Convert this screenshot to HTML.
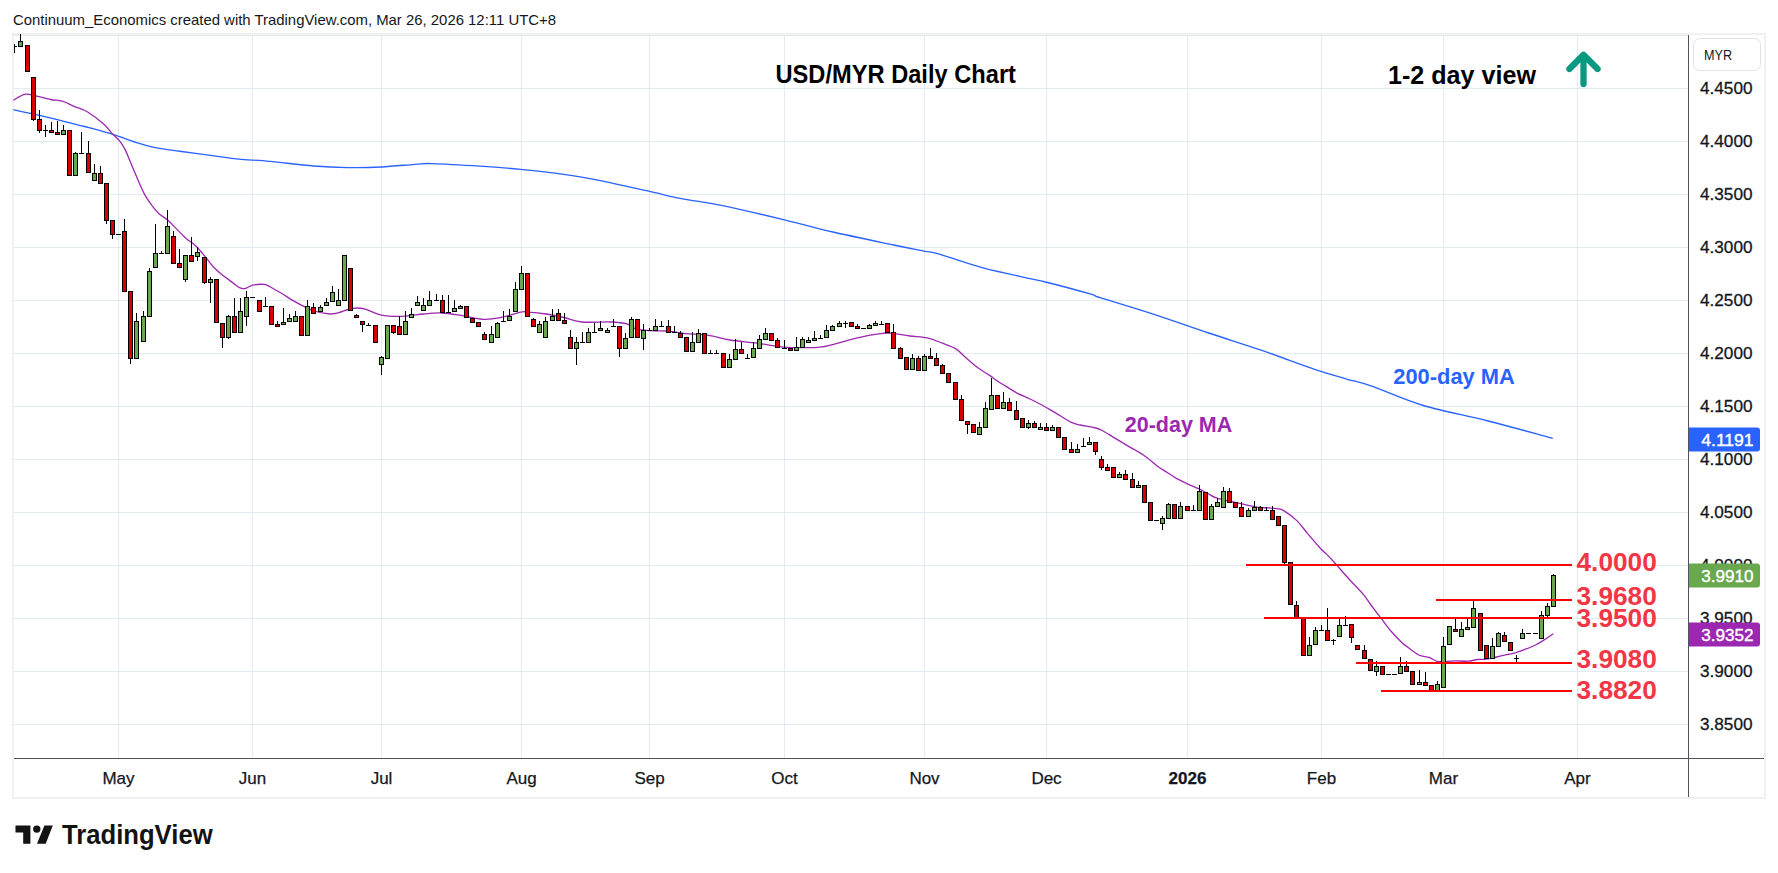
<!DOCTYPE html><html><head><meta charset="utf-8"><style>html,body{margin:0;padding:0;background:#fff;}svg{display:block;}text{font-family:"Liberation Sans",sans-serif;}</style></head><body>
<svg width="1778" height="873" viewBox="0 0 1778 873">
<rect x="0" y="0" width="1778" height="873" fill="#ffffff"/>
<rect x="12" y="33" width="1754" height="766" fill="#f1f1f1"/>
<rect x="14" y="35" width="1750" height="762" fill="#ffffff"/>
<text x="13" y="25" font-size="14.3" fill="#131722" textLength="543" lengthAdjust="spacingAndGlyphs">Continuum_Economics created with TradingView.com, Mar 26, 2026 12:11 UTC+8</text>
<g shape-rendering="crispEdges"><rect x="14" y="35" width="1674" height="1" fill="#e0ebf2"/><rect x="14" y="88" width="1674" height="1" fill="#e0ebf2"/><rect x="14" y="141" width="1674" height="1" fill="#e0ebf2"/><rect x="14" y="194" width="1674" height="1" fill="#e0ebf2"/><rect x="14" y="247" width="1674" height="1" fill="#e0ebf2"/><rect x="14" y="300" width="1674" height="1" fill="#e0ebf2"/><rect x="14" y="353" width="1674" height="1" fill="#e0ebf2"/><rect x="14" y="406" width="1674" height="1" fill="#e0ebf2"/><rect x="14" y="459" width="1674" height="1" fill="#e0ebf2"/><rect x="14" y="512" width="1674" height="1" fill="#e0ebf2"/><rect x="14" y="565" width="1674" height="1" fill="#e0ebf2"/><rect x="14" y="618" width="1674" height="1" fill="#e0ebf2"/><rect x="14" y="671" width="1674" height="1" fill="#e0ebf2"/><rect x="14" y="724" width="1674" height="1" fill="#e0ebf2"/><rect x="118" y="35" width="1" height="723" fill="#e0ebf2"/><rect x="252" y="35" width="1" height="723" fill="#e0ebf2"/><rect x="381" y="35" width="1" height="723" fill="#e0ebf2"/><rect x="521" y="35" width="1" height="723" fill="#e0ebf2"/><rect x="649" y="35" width="1" height="723" fill="#e0ebf2"/><rect x="784" y="35" width="1" height="723" fill="#e0ebf2"/><rect x="924" y="35" width="1" height="723" fill="#e0ebf2"/><rect x="1046" y="35" width="1" height="723" fill="#e0ebf2"/><rect x="1187" y="35" width="1" height="723" fill="#e0ebf2"/><rect x="1321" y="35" width="1" height="723" fill="#e0ebf2"/><rect x="1443" y="35" width="1" height="723" fill="#e0ebf2"/><rect x="1577" y="35" width="1" height="723" fill="#e0ebf2"/></g>
<g shape-rendering="crispEdges"><rect x="1688" y="35" width="1" height="762" fill="#50535e"/><rect x="14" y="758" width="1750" height="1" fill="#50535e"/></g>
<text x="775.5" y="83" font-size="26" font-weight="bold" fill="#000" textLength="240.5" lengthAdjust="spacingAndGlyphs">USD/MYR Daily Chart</text>
<text x="1388" y="84" font-size="26" font-weight="bold" fill="#000" textLength="148" lengthAdjust="spacingAndGlyphs">1-2 day view</text>
<g stroke="#089981" stroke-width="6.3" stroke-linecap="round" stroke-linejoin="round" fill="none"><path d="M1583.5 84 L1583.5 56"/><path d="M1569.4 69 L1583.5 54.8 L1597.6 69"/></g>
<path d="M13.4 109.7 C18.5 110.8 33.0 113.9 43.7 116.4 C54.4 118.9 69.8 122.9 77.5 124.8 C85.2 126.7 84.1 126.3 90.0 127.9 C95.9 129.5 105.3 132.0 112.9 134.4 C120.5 136.8 128.9 140.2 135.8 142.4 C142.7 144.6 146.5 145.9 154.1 147.4 C161.7 148.9 171.3 150.1 181.6 151.5 C191.9 152.9 206.4 154.8 215.9 156.1 C225.4 157.4 229.8 158.2 238.8 159.1 C247.8 160.0 257.5 160.2 270.0 161.4 C282.5 162.6 300.8 165.0 313.7 166.0 C326.6 167.0 336.2 167.4 347.5 167.6 C358.8 167.8 369.9 167.6 381.2 167.0 C392.4 166.4 406.6 164.9 415.0 164.3 C423.4 163.7 421.1 163.3 431.9 163.6 C442.7 163.9 465.2 165.2 480.0 166.2 C494.8 167.1 506.6 168.0 520.5 169.3 C534.5 170.7 550.2 172.4 563.7 174.3 C577.2 176.2 587.3 178.0 601.5 180.8 C615.7 183.6 635.2 188.2 648.7 191.2 C662.2 194.2 670.6 196.6 682.5 198.9 C694.4 201.2 703.0 201.6 720.0 205.1 C737.0 208.6 765.6 215.3 784.4 219.8 C803.2 224.3 814.8 227.8 833.0 232.0 C851.2 236.2 878.5 241.8 893.7 245.0 C908.9 248.2 916.4 249.6 924.0 251.1 C931.6 252.6 929.1 251.2 939.2 254.1 C949.3 257.0 967.1 263.8 984.8 268.4 C1002.5 273.0 1027.8 277.7 1045.5 282.0 C1063.2 286.3 1081.9 291.6 1091.0 294.2 C1100.1 296.8 1089.9 294.4 1100.0 297.6 C1110.1 300.8 1133.6 307.7 1151.7 313.6 C1169.8 319.5 1190.6 326.9 1208.7 333.0 C1226.8 339.1 1242.7 343.8 1260.4 349.9 C1278.1 355.9 1300.5 364.5 1314.7 369.3 C1328.9 374.1 1336.3 376.0 1345.8 378.8 C1355.3 381.6 1358.8 381.7 1371.7 386.1 C1384.6 390.6 1404.0 399.7 1423.4 405.5 C1442.8 411.3 1466.5 415.5 1488.1 421.0 C1509.7 426.5 1542.0 435.4 1552.8 438.3" fill="none" stroke="#2962ff" stroke-width="1.35"/>
<path d="M13.4 100.2 C15.4 99.2 21.6 94.9 25.2 94.2 C28.8 93.5 31.1 94.9 35.3 95.8 C39.5 96.7 46.0 98.6 50.5 99.5 C55.0 100.4 58.4 100.1 62.3 101.2 C66.2 102.3 69.9 104.5 74.1 106.3 C78.3 108.1 82.7 109.0 87.6 112.0 C92.5 115.0 99.5 120.4 103.7 124.1 C107.9 127.8 110.2 131.6 112.9 134.4 C115.6 137.2 117.7 138.5 119.8 141.2 C121.9 143.9 123.6 146.6 125.5 150.4 C127.4 154.2 129.1 159.1 131.2 164.1 C133.3 169.1 135.8 175.0 138.1 180.2 C140.4 185.4 142.7 190.9 145.0 195.1 C147.3 199.3 149.5 202.3 151.8 205.4 C154.1 208.5 156.0 210.9 158.7 213.4 C161.4 215.9 164.8 217.6 167.9 220.3 C171.0 223.0 173.9 226.4 177.0 229.4 C180.1 232.4 183.1 235.9 186.2 238.6 C189.2 241.3 192.2 242.6 195.3 245.5 C198.4 248.4 201.4 252.2 204.5 255.8 C207.6 259.4 210.6 263.9 213.7 267.2 C216.8 270.4 219.8 272.8 222.8 275.3 C225.9 277.8 229.1 280.0 232.0 282.1 C234.9 284.2 237.7 286.9 240.0 287.9 C242.3 288.9 243.6 288.8 245.7 288.3 C247.8 287.8 249.5 285.8 252.6 285.1 C255.7 284.5 261.1 284.1 264.0 284.4 C266.9 284.7 267.0 285.1 270.0 286.7 C273.0 288.3 278.1 291.4 282.2 293.8 C286.3 296.2 289.3 298.6 294.4 301.4 C299.5 304.2 306.7 308.4 312.6 310.5 C318.5 312.6 325.3 313.8 330.0 314.0 C334.7 314.2 337.8 312.8 340.8 312.0 C343.8 311.2 345.3 310.2 348.0 309.5 C350.7 308.8 354.0 308.0 357.0 308.0 C360.0 308.0 362.1 308.3 366.0 309.4 C369.9 310.5 374.4 313.6 380.4 314.8 C386.4 316.0 394.8 316.4 402.0 316.3 C409.2 316.2 417.0 314.6 423.6 314.0 C430.2 313.4 435.6 312.8 441.6 313.0 C447.6 313.2 452.7 314.1 459.6 315.2 C466.5 316.2 476.1 318.9 483.0 319.3 C489.9 319.7 494.7 318.7 501.0 317.5 C507.3 316.3 516.3 313.0 520.8 312.1 C525.3 311.2 523.8 311.8 528.0 312.1 C532.2 312.4 540.0 313.1 546.0 314.0 C552.0 314.9 558.0 316.2 564.0 317.5 C570.0 318.8 574.2 321.2 582.0 322.0 C589.8 322.8 603.3 321.7 610.8 322.0 C618.3 322.3 622.8 322.7 627.0 323.8 C631.2 324.9 632.2 327.8 636.0 328.9 C639.8 330.0 644.8 330.3 650.0 330.7 C655.2 331.1 661.2 330.5 667.0 331.0 C672.8 331.5 678.1 332.9 685.0 333.6 C691.9 334.3 700.9 334.2 708.4 335.3 C715.9 336.4 721.9 338.7 730.0 340.0 C738.1 341.3 748.0 342.0 757.0 343.2 C766.0 344.4 776.5 346.4 784.0 347.2 C791.5 347.9 796.0 347.7 802.0 347.7 C808.0 347.7 814.6 347.8 820.0 347.2 C825.4 346.6 829.0 345.4 834.4 344.1 C839.8 342.8 846.4 340.7 852.4 339.2 C858.4 337.7 865.3 336.1 870.4 335.1 C875.5 334.1 879.4 333.6 883.0 333.3 C886.6 333.0 887.5 332.9 892.0 333.3 C896.5 333.8 904.0 335.2 910.0 336.0 C916.0 336.8 922.6 337.0 928.0 338.2 C933.4 339.4 937.8 341.5 942.4 343.2 C947.0 344.9 951.9 346.4 955.6 348.6 C959.3 350.9 961.7 354.0 964.8 356.7 C967.9 359.4 971.3 362.5 974.0 364.7 C976.7 366.9 978.1 368.0 980.8 369.8 C983.5 371.6 987.3 373.8 990.0 375.6 C992.7 377.4 994.2 378.9 996.9 380.7 C999.6 382.5 1002.6 384.3 1006.0 386.4 C1009.4 388.5 1013.7 391.3 1017.5 393.3 C1021.3 395.3 1025.2 396.7 1029.0 398.5 C1032.8 400.3 1036.9 402.3 1040.4 404.2 C1043.9 406.1 1046.6 407.6 1050.0 409.6 C1053.4 411.6 1057.3 414.0 1061.0 416.2 C1064.7 418.4 1068.8 421.2 1072.0 422.7 C1075.2 424.2 1076.5 424.2 1080.2 425.0 C1083.9 425.8 1090.3 426.6 1094.0 427.5 C1097.7 428.4 1099.0 428.9 1102.2 430.5 C1105.4 432.1 1109.1 434.6 1113.2 437.1 C1117.3 439.6 1121.9 442.4 1126.9 445.4 C1131.9 448.4 1138.4 451.6 1143.4 455.0 C1148.5 458.4 1153.3 463.1 1157.2 466.0 C1161.1 468.9 1163.6 470.1 1166.8 472.2 C1170.0 474.3 1173.0 476.5 1176.4 478.4 C1179.8 480.3 1183.7 482.1 1187.4 483.8 C1191.1 485.5 1195.0 487.1 1198.4 488.7 C1201.8 490.3 1205.0 492.0 1208.0 493.5 C1211.0 495.0 1211.6 496.4 1216.3 497.9 C1221.0 499.4 1229.8 501.2 1236.3 502.7 C1242.8 504.2 1248.8 505.8 1255.5 506.8 C1262.2 507.8 1271.8 508.0 1276.5 508.6 C1281.2 509.2 1280.3 508.6 1283.7 510.6 C1287.1 512.6 1293.1 517.1 1297.1 520.9 C1301.0 524.7 1303.6 528.8 1307.4 533.3 C1311.2 537.8 1316.4 544.0 1319.8 547.7 C1323.2 551.4 1325.2 552.8 1328.0 555.6 C1330.8 558.4 1332.8 560.8 1336.3 564.6 C1339.8 568.5 1344.2 573.8 1348.7 578.7 C1353.2 583.6 1359.3 589.6 1363.1 594.1 C1366.9 598.6 1368.2 601.4 1371.3 605.5 C1374.4 609.6 1378.1 614.4 1381.6 618.9 C1385.0 623.4 1388.5 628.3 1392.0 632.3 C1395.5 636.3 1399.5 640.4 1402.3 643.0 C1405.0 645.6 1405.8 645.7 1408.5 647.7 C1411.2 649.7 1415.4 653.4 1418.8 655.0 C1422.2 656.6 1426.1 656.4 1429.1 657.4 C1432.1 658.4 1434.0 660.6 1437.0 661.3 C1440.0 662.0 1443.7 661.6 1446.8 661.5 C1449.9 661.4 1452.0 660.8 1455.6 660.8 C1459.2 660.8 1464.5 661.4 1468.2 661.2 C1471.9 661.0 1474.6 659.8 1477.6 659.5 C1480.6 659.2 1483.2 659.6 1486.4 659.2 C1489.6 658.8 1493.1 657.8 1496.5 657.0 C1499.9 656.2 1503.4 655.4 1506.6 654.7 C1509.8 654.0 1512.2 653.7 1515.4 652.8 C1518.6 651.9 1522.2 650.5 1525.5 649.2 C1528.8 647.9 1532.6 646.4 1535.5 645.0 C1538.4 643.6 1540.1 642.5 1543.1 640.6 C1546.0 638.7 1551.5 634.9 1553.2 633.7" fill="none" stroke="#9c27b0" stroke-width="1.3"/>
<defs><clipPath id="ca"><rect x="14" y="33" width="1674" height="725"/></clipPath></defs>
<g shape-rendering="crispEdges" clip-path="url(#ca)"><rect x="14" y="44" width="1" height="9" fill="#000"/><rect x="12" y="46" width="5" height="1" fill="#000"/><rect x="20" y="34" width="1" height="13" fill="#000"/><rect x="18" y="41" width="5" height="6" fill="#000"/><rect x="19" y="42" width="3" height="4" fill="#6aa84f"/><rect x="25" y="45" width="5" height="27" fill="#000"/><rect x="26" y="46" width="3" height="25" fill="#d80000"/><rect x="33" y="77" width="1" height="44" fill="#000"/><rect x="31" y="77" width="5" height="43" fill="#000"/><rect x="32" y="78" width="3" height="41" fill="#d80000"/><rect x="39" y="110" width="1" height="23" fill="#000"/><rect x="37" y="119" width="5" height="12" fill="#000"/><rect x="38" y="120" width="3" height="10" fill="#d80000"/><rect x="45" y="125" width="1" height="12" fill="#000"/><rect x="43" y="130" width="5" height="1" fill="#000"/><rect x="51" y="122" width="1" height="11" fill="#000"/><rect x="49" y="130" width="5" height="3" fill="#000"/><rect x="50" y="131" width="3" height="1" fill="#d80000"/><rect x="57" y="121" width="1" height="14" fill="#000"/><rect x="55" y="132" width="5" height="3" fill="#000"/><rect x="56" y="133" width="3" height="1" fill="#d80000"/><rect x="63" y="125" width="1" height="10" fill="#000"/><rect x="61" y="130" width="5" height="5" fill="#000"/><rect x="62" y="131" width="3" height="3" fill="#6aa84f"/><rect x="67" y="130" width="5" height="46" fill="#000"/><rect x="68" y="131" width="3" height="44" fill="#d80000"/><rect x="75" y="152" width="1" height="24" fill="#000"/><rect x="73" y="153" width="5" height="23" fill="#000"/><rect x="74" y="154" width="3" height="21" fill="#6aa84f"/><rect x="81" y="132" width="1" height="21" fill="#000"/><rect x="79" y="153" width="5" height="1" fill="#000"/><rect x="88" y="141" width="1" height="32" fill="#000"/><rect x="86" y="153" width="5" height="20" fill="#000"/><rect x="87" y="154" width="3" height="18" fill="#d80000"/><rect x="94" y="164" width="1" height="17" fill="#000"/><rect x="92" y="173" width="5" height="8" fill="#000"/><rect x="93" y="174" width="3" height="6" fill="#6aa84f"/><rect x="100" y="166" width="1" height="18" fill="#000"/><rect x="98" y="173" width="5" height="11" fill="#000"/><rect x="99" y="174" width="3" height="9" fill="#d80000"/><rect x="106" y="183" width="1" height="41" fill="#000"/><rect x="104" y="183" width="5" height="38" fill="#000"/><rect x="105" y="184" width="3" height="36" fill="#d80000"/><rect x="112" y="220" width="1" height="19" fill="#000"/><rect x="110" y="220" width="5" height="15" fill="#000"/><rect x="111" y="221" width="3" height="13" fill="#d80000"/><rect x="116" y="234" width="5" height="1" fill="#000"/><rect x="124" y="219" width="1" height="73" fill="#000"/><rect x="122" y="231" width="5" height="61" fill="#000"/><rect x="123" y="232" width="3" height="59" fill="#d80000"/><rect x="130" y="291" width="1" height="73" fill="#000"/><rect x="128" y="291" width="5" height="68" fill="#000"/><rect x="129" y="292" width="3" height="66" fill="#d80000"/><rect x="136" y="313" width="1" height="46" fill="#000"/><rect x="134" y="321" width="5" height="38" fill="#000"/><rect x="135" y="322" width="3" height="36" fill="#6aa84f"/><rect x="143" y="311" width="1" height="31" fill="#000"/><rect x="141" y="316" width="5" height="26" fill="#000"/><rect x="142" y="317" width="3" height="24" fill="#6aa84f"/><rect x="149" y="268" width="1" height="49" fill="#000"/><rect x="147" y="271" width="5" height="46" fill="#000"/><rect x="148" y="272" width="3" height="44" fill="#6aa84f"/><rect x="155" y="224" width="1" height="44" fill="#000"/><rect x="153" y="253" width="5" height="15" fill="#000"/><rect x="154" y="254" width="3" height="13" fill="#6aa84f"/><rect x="161" y="251" width="1" height="3" fill="#000"/><rect x="159" y="253" width="5" height="1" fill="#000"/><rect x="167" y="210" width="1" height="44" fill="#000"/><rect x="165" y="226" width="5" height="28" fill="#000"/><rect x="166" y="227" width="3" height="26" fill="#6aa84f"/><rect x="173" y="231" width="1" height="33" fill="#000"/><rect x="171" y="236" width="5" height="28" fill="#000"/><rect x="172" y="237" width="3" height="26" fill="#d80000"/><rect x="179" y="249" width="1" height="19" fill="#000"/><rect x="177" y="263" width="5" height="5" fill="#000"/><rect x="178" y="264" width="3" height="3" fill="#d80000"/><rect x="185" y="255" width="1" height="27" fill="#000"/><rect x="183" y="255" width="5" height="25" fill="#000"/><rect x="184" y="256" width="3" height="23" fill="#6aa84f"/><rect x="191" y="237" width="1" height="25" fill="#000"/><rect x="189" y="255" width="5" height="7" fill="#000"/><rect x="190" y="256" width="3" height="5" fill="#d80000"/><rect x="197" y="247" width="1" height="14" fill="#000"/><rect x="195" y="252" width="5" height="5" fill="#000"/><rect x="196" y="253" width="3" height="3" fill="#6aa84f"/><rect x="204" y="257" width="1" height="27" fill="#000"/><rect x="202" y="257" width="5" height="26" fill="#000"/><rect x="203" y="258" width="3" height="24" fill="#d80000"/><rect x="210" y="277" width="1" height="26" fill="#000"/><rect x="208" y="279" width="5" height="4" fill="#000"/><rect x="209" y="280" width="3" height="2" fill="#6aa84f"/><rect x="214" y="279" width="5" height="44" fill="#000"/><rect x="215" y="280" width="3" height="42" fill="#d80000"/><rect x="222" y="323" width="1" height="25" fill="#000"/><rect x="220" y="323" width="5" height="15" fill="#000"/><rect x="221" y="324" width="3" height="13" fill="#d80000"/><rect x="228" y="315" width="1" height="24" fill="#000"/><rect x="226" y="316" width="5" height="22" fill="#000"/><rect x="227" y="317" width="3" height="20" fill="#6aa84f"/><rect x="234" y="298" width="1" height="35" fill="#000"/><rect x="232" y="316" width="5" height="17" fill="#000"/><rect x="233" y="317" width="3" height="15" fill="#d80000"/><rect x="240" y="298" width="1" height="35" fill="#000"/><rect x="238" y="311" width="5" height="22" fill="#000"/><rect x="239" y="312" width="3" height="20" fill="#6aa84f"/><rect x="246" y="291" width="1" height="35" fill="#000"/><rect x="244" y="297" width="5" height="20" fill="#000"/><rect x="245" y="298" width="3" height="18" fill="#6aa84f"/><rect x="250" y="297" width="5" height="1" fill="#000"/><rect x="257" y="300" width="5" height="12" fill="#000"/><rect x="258" y="301" width="3" height="10" fill="#d80000"/><rect x="265" y="297" width="1" height="9" fill="#000"/><rect x="263" y="306" width="5" height="1" fill="#000"/><rect x="269" y="306" width="5" height="19" fill="#000"/><rect x="270" y="307" width="3" height="17" fill="#d80000"/><rect x="277" y="321" width="1" height="6" fill="#000"/><rect x="275" y="324" width="5" height="3" fill="#000"/><rect x="276" y="325" width="3" height="1" fill="#d80000"/><rect x="283" y="308" width="1" height="17" fill="#000"/><rect x="281" y="322" width="5" height="3" fill="#000"/><rect x="282" y="323" width="3" height="1" fill="#6aa84f"/><rect x="289" y="314" width="1" height="8" fill="#000"/><rect x="287" y="318" width="5" height="4" fill="#000"/><rect x="288" y="319" width="3" height="2" fill="#6aa84f"/><rect x="295" y="311" width="1" height="11" fill="#000"/><rect x="293" y="316" width="5" height="6" fill="#000"/><rect x="294" y="317" width="3" height="4" fill="#6aa84f"/><rect x="299" y="316" width="5" height="20" fill="#000"/><rect x="300" y="317" width="3" height="18" fill="#d80000"/><rect x="307" y="300" width="1" height="36" fill="#000"/><rect x="305" y="306" width="5" height="30" fill="#000"/><rect x="306" y="307" width="3" height="28" fill="#6aa84f"/><rect x="313" y="303" width="1" height="11" fill="#000"/><rect x="311" y="307" width="5" height="7" fill="#000"/><rect x="312" y="308" width="3" height="5" fill="#d80000"/><rect x="320" y="305" width="1" height="7" fill="#000"/><rect x="318" y="307" width="5" height="5" fill="#000"/><rect x="319" y="308" width="3" height="3" fill="#6aa84f"/><rect x="326" y="298" width="1" height="8" fill="#000"/><rect x="324" y="302" width="5" height="4" fill="#000"/><rect x="325" y="303" width="3" height="2" fill="#6aa84f"/><rect x="332" y="286" width="1" height="16" fill="#000"/><rect x="330" y="292" width="5" height="10" fill="#000"/><rect x="331" y="293" width="3" height="8" fill="#6aa84f"/><rect x="338" y="289" width="1" height="17" fill="#000"/><rect x="336" y="300" width="5" height="6" fill="#000"/><rect x="337" y="301" width="3" height="4" fill="#6aa84f"/><rect x="342" y="255" width="5" height="46" fill="#000"/><rect x="343" y="256" width="3" height="44" fill="#6aa84f"/><rect x="348" y="268" width="5" height="43" fill="#000"/><rect x="349" y="269" width="3" height="41" fill="#d80000"/><rect x="356" y="314" width="1" height="4" fill="#000"/><rect x="354" y="315" width="5" height="3" fill="#000"/><rect x="355" y="316" width="3" height="1" fill="#d80000"/><rect x="362" y="321" width="1" height="11" fill="#000"/><rect x="360" y="321" width="5" height="4" fill="#000"/><rect x="361" y="322" width="3" height="2" fill="#d80000"/><rect x="368" y="323" width="1" height="2" fill="#000"/><rect x="366" y="325" width="5" height="1" fill="#000"/><rect x="373" y="325" width="5" height="18" fill="#000"/><rect x="374" y="326" width="3" height="16" fill="#d80000"/><rect x="381" y="356" width="1" height="19" fill="#000"/><rect x="379" y="357" width="5" height="8" fill="#000"/><rect x="380" y="358" width="3" height="6" fill="#6aa84f"/><rect x="385" y="325" width="5" height="34" fill="#000"/><rect x="386" y="326" width="3" height="32" fill="#6aa84f"/><rect x="393" y="325" width="1" height="9" fill="#000"/><rect x="391" y="325" width="5" height="8" fill="#000"/><rect x="392" y="326" width="3" height="6" fill="#d80000"/><rect x="399" y="316" width="1" height="19" fill="#000"/><rect x="397" y="326" width="5" height="9" fill="#000"/><rect x="398" y="327" width="3" height="7" fill="#d80000"/><rect x="405" y="311" width="1" height="24" fill="#000"/><rect x="403" y="321" width="5" height="14" fill="#000"/><rect x="404" y="322" width="3" height="12" fill="#6aa84f"/><rect x="411" y="308" width="1" height="10" fill="#000"/><rect x="409" y="314" width="5" height="4" fill="#000"/><rect x="410" y="315" width="3" height="2" fill="#6aa84f"/><rect x="417" y="296" width="1" height="10" fill="#000"/><rect x="415" y="302" width="5" height="4" fill="#000"/><rect x="416" y="303" width="3" height="2" fill="#6aa84f"/><rect x="423" y="298" width="1" height="13" fill="#000"/><rect x="421" y="305" width="5" height="6" fill="#000"/><rect x="422" y="306" width="3" height="4" fill="#6aa84f"/><rect x="429" y="291" width="1" height="15" fill="#000"/><rect x="427" y="300" width="5" height="6" fill="#000"/><rect x="428" y="301" width="3" height="4" fill="#6aa84f"/><rect x="436" y="294" width="1" height="7" fill="#000"/><rect x="434" y="300" width="5" height="1" fill="#000"/><rect x="442" y="295" width="1" height="18" fill="#000"/><rect x="440" y="300" width="5" height="13" fill="#000"/><rect x="441" y="301" width="3" height="11" fill="#d80000"/><rect x="448" y="295" width="1" height="17" fill="#000"/><rect x="446" y="312" width="5" height="1" fill="#000"/><rect x="454" y="300" width="1" height="12" fill="#000"/><rect x="452" y="308" width="5" height="4" fill="#000"/><rect x="453" y="309" width="3" height="2" fill="#6aa84f"/><rect x="460" y="305" width="1" height="4" fill="#000"/><rect x="458" y="306" width="5" height="3" fill="#000"/><rect x="459" y="307" width="3" height="1" fill="#6aa84f"/><rect x="464" y="306" width="5" height="12" fill="#000"/><rect x="465" y="307" width="3" height="10" fill="#d80000"/><rect x="470" y="318" width="5" height="5" fill="#000"/><rect x="471" y="319" width="3" height="3" fill="#d80000"/><rect x="476" y="322" width="5" height="5" fill="#000"/><rect x="477" y="323" width="3" height="3" fill="#d80000"/><rect x="484" y="332" width="1" height="8" fill="#000"/><rect x="482" y="334" width="5" height="6" fill="#000"/><rect x="483" y="335" width="3" height="4" fill="#d80000"/><rect x="491" y="326" width="1" height="17" fill="#000"/><rect x="489" y="334" width="5" height="9" fill="#000"/><rect x="490" y="335" width="3" height="7" fill="#6aa84f"/><rect x="497" y="322" width="1" height="16" fill="#000"/><rect x="495" y="323" width="5" height="15" fill="#000"/><rect x="496" y="324" width="3" height="13" fill="#6aa84f"/><rect x="503" y="311" width="1" height="10" fill="#000"/><rect x="501" y="321" width="5" height="1" fill="#000"/><rect x="509" y="309" width="1" height="12" fill="#000"/><rect x="507" y="316" width="5" height="5" fill="#000"/><rect x="508" y="317" width="3" height="3" fill="#6aa84f"/><rect x="515" y="282" width="1" height="30" fill="#000"/><rect x="513" y="289" width="5" height="23" fill="#000"/><rect x="514" y="290" width="3" height="21" fill="#6aa84f"/><rect x="521" y="266" width="1" height="24" fill="#000"/><rect x="519" y="273" width="5" height="17" fill="#000"/><rect x="520" y="274" width="3" height="15" fill="#6aa84f"/><rect x="525" y="273" width="5" height="44" fill="#000"/><rect x="526" y="274" width="3" height="42" fill="#d80000"/><rect x="533" y="318" width="1" height="9" fill="#000"/><rect x="531" y="319" width="5" height="8" fill="#000"/><rect x="532" y="320" width="3" height="6" fill="#d80000"/><rect x="539" y="321" width="1" height="12" fill="#000"/><rect x="537" y="324" width="5" height="9" fill="#000"/><rect x="538" y="325" width="3" height="7" fill="#6aa84f"/><rect x="545" y="317" width="1" height="21" fill="#000"/><rect x="543" y="321" width="5" height="17" fill="#000"/><rect x="544" y="322" width="3" height="15" fill="#6aa84f"/><rect x="552" y="309" width="1" height="12" fill="#000"/><rect x="550" y="316" width="5" height="5" fill="#000"/><rect x="551" y="317" width="3" height="3" fill="#6aa84f"/><rect x="558" y="309" width="1" height="12" fill="#000"/><rect x="556" y="313" width="5" height="8" fill="#000"/><rect x="557" y="314" width="3" height="6" fill="#d80000"/><rect x="564" y="313" width="1" height="11" fill="#000"/><rect x="562" y="320" width="5" height="4" fill="#000"/><rect x="563" y="321" width="3" height="2" fill="#d80000"/><rect x="570" y="330" width="1" height="19" fill="#000"/><rect x="568" y="337" width="5" height="12" fill="#000"/><rect x="569" y="338" width="3" height="10" fill="#d80000"/><rect x="576" y="337" width="1" height="28" fill="#000"/><rect x="574" y="342" width="5" height="7" fill="#000"/><rect x="575" y="343" width="3" height="5" fill="#6aa84f"/><rect x="582" y="332" width="1" height="11" fill="#000"/><rect x="580" y="342" width="5" height="1" fill="#000"/><rect x="588" y="328" width="1" height="15" fill="#000"/><rect x="586" y="332" width="5" height="11" fill="#000"/><rect x="587" y="333" width="3" height="9" fill="#6aa84f"/><rect x="594" y="323" width="1" height="9" fill="#000"/><rect x="592" y="332" width="5" height="1" fill="#000"/><rect x="600" y="321" width="1" height="10" fill="#000"/><rect x="598" y="328" width="5" height="3" fill="#000"/><rect x="599" y="329" width="3" height="1" fill="#6aa84f"/><rect x="607" y="328" width="1" height="5" fill="#000"/><rect x="605" y="330" width="5" height="3" fill="#000"/><rect x="606" y="331" width="3" height="1" fill="#6aa84f"/><rect x="613" y="319" width="1" height="7" fill="#000"/><rect x="611" y="326" width="5" height="1" fill="#000"/><rect x="619" y="326" width="1" height="31" fill="#000"/><rect x="617" y="326" width="5" height="23" fill="#000"/><rect x="618" y="327" width="3" height="21" fill="#d80000"/><rect x="625" y="333" width="1" height="16" fill="#000"/><rect x="623" y="338" width="5" height="11" fill="#000"/><rect x="624" y="339" width="3" height="9" fill="#6aa84f"/><rect x="631" y="317" width="1" height="21" fill="#000"/><rect x="629" y="319" width="5" height="19" fill="#000"/><rect x="630" y="320" width="3" height="17" fill="#6aa84f"/><rect x="635" y="319" width="5" height="19" fill="#000"/><rect x="636" y="320" width="3" height="17" fill="#d80000"/><rect x="643" y="324" width="1" height="26" fill="#000"/><rect x="641" y="330" width="5" height="9" fill="#000"/><rect x="642" y="331" width="3" height="7" fill="#6aa84f"/><rect x="649" y="328" width="1" height="3" fill="#000"/><rect x="647" y="330" width="5" height="1" fill="#000"/><rect x="655" y="319" width="1" height="12" fill="#000"/><rect x="653" y="326" width="5" height="5" fill="#000"/><rect x="654" y="327" width="3" height="3" fill="#6aa84f"/><rect x="661" y="321" width="1" height="6" fill="#000"/><rect x="659" y="326" width="5" height="1" fill="#000"/><rect x="668" y="320" width="1" height="13" fill="#000"/><rect x="666" y="326" width="5" height="7" fill="#000"/><rect x="667" y="327" width="3" height="5" fill="#d80000"/><rect x="674" y="326" width="1" height="7" fill="#000"/><rect x="672" y="332" width="5" height="1" fill="#000"/><rect x="680" y="331" width="1" height="7" fill="#000"/><rect x="678" y="333" width="5" height="5" fill="#000"/><rect x="679" y="334" width="3" height="3" fill="#d80000"/><rect x="684" y="337" width="5" height="15" fill="#000"/><rect x="685" y="338" width="3" height="13" fill="#d80000"/><rect x="692" y="332" width="1" height="20" fill="#000"/><rect x="690" y="342" width="5" height="10" fill="#000"/><rect x="691" y="343" width="3" height="8" fill="#6aa84f"/><rect x="698" y="329" width="1" height="14" fill="#000"/><rect x="696" y="333" width="5" height="10" fill="#000"/><rect x="697" y="334" width="3" height="8" fill="#6aa84f"/><rect x="702" y="333" width="5" height="21" fill="#000"/><rect x="703" y="334" width="3" height="19" fill="#d80000"/><rect x="710" y="350" width="1" height="4" fill="#000"/><rect x="708" y="353" width="5" height="1" fill="#000"/><rect x="716" y="350" width="1" height="4" fill="#000"/><rect x="714" y="353" width="5" height="1" fill="#000"/><rect x="721" y="353" width="5" height="15" fill="#000"/><rect x="722" y="354" width="3" height="13" fill="#d80000"/><rect x="729" y="354" width="1" height="14" fill="#000"/><rect x="727" y="359" width="5" height="9" fill="#000"/><rect x="728" y="360" width="3" height="7" fill="#6aa84f"/><rect x="735" y="339" width="1" height="21" fill="#000"/><rect x="733" y="349" width="5" height="11" fill="#000"/><rect x="734" y="350" width="3" height="9" fill="#6aa84f"/><rect x="741" y="342" width="1" height="12" fill="#000"/><rect x="739" y="349" width="5" height="5" fill="#000"/><rect x="740" y="350" width="3" height="3" fill="#d80000"/><rect x="747" y="354" width="1" height="4" fill="#000"/><rect x="745" y="358" width="5" height="1" fill="#000"/><rect x="753" y="342" width="1" height="16" fill="#000"/><rect x="751" y="348" width="5" height="10" fill="#000"/><rect x="752" y="349" width="3" height="8" fill="#6aa84f"/><rect x="759" y="335" width="1" height="14" fill="#000"/><rect x="757" y="339" width="5" height="10" fill="#000"/><rect x="758" y="340" width="3" height="8" fill="#6aa84f"/><rect x="765" y="328" width="1" height="12" fill="#000"/><rect x="763" y="333" width="5" height="7" fill="#000"/><rect x="764" y="334" width="3" height="5" fill="#6aa84f"/><rect x="769" y="333" width="5" height="8" fill="#000"/><rect x="770" y="334" width="3" height="6" fill="#d80000"/><rect x="777" y="338" width="1" height="10" fill="#000"/><rect x="775" y="340" width="5" height="8" fill="#000"/><rect x="776" y="341" width="3" height="6" fill="#d80000"/><rect x="784" y="340" width="1" height="8" fill="#000"/><rect x="782" y="348" width="5" height="1" fill="#000"/><rect x="788" y="348" width="5" height="3" fill="#000"/><rect x="789" y="349" width="3" height="1" fill="#d80000"/><rect x="796" y="337" width="1" height="14" fill="#000"/><rect x="794" y="347" width="5" height="4" fill="#000"/><rect x="795" y="348" width="3" height="2" fill="#6aa84f"/><rect x="802" y="337" width="1" height="11" fill="#000"/><rect x="800" y="339" width="5" height="9" fill="#000"/><rect x="801" y="340" width="3" height="7" fill="#6aa84f"/><rect x="808" y="337" width="1" height="6" fill="#000"/><rect x="806" y="340" width="5" height="3" fill="#000"/><rect x="807" y="341" width="3" height="1" fill="#6aa84f"/><rect x="814" y="331" width="1" height="10" fill="#000"/><rect x="812" y="338" width="5" height="3" fill="#000"/><rect x="813" y="339" width="3" height="1" fill="#6aa84f"/><rect x="820" y="335" width="1" height="3" fill="#000"/><rect x="818" y="338" width="5" height="1" fill="#000"/><rect x="826" y="325" width="1" height="13" fill="#000"/><rect x="824" y="330" width="5" height="8" fill="#000"/><rect x="825" y="331" width="3" height="6" fill="#6aa84f"/><rect x="832" y="325" width="1" height="6" fill="#000"/><rect x="830" y="326" width="5" height="5" fill="#000"/><rect x="831" y="327" width="3" height="3" fill="#6aa84f"/><rect x="839" y="321" width="1" height="6" fill="#000"/><rect x="837" y="323" width="5" height="4" fill="#000"/><rect x="838" y="324" width="3" height="2" fill="#6aa84f"/><rect x="845" y="321" width="1" height="7" fill="#000"/><rect x="843" y="323" width="5" height="1" fill="#000"/><rect x="849" y="322" width="5" height="5" fill="#000"/><rect x="850" y="323" width="3" height="3" fill="#d80000"/><rect x="857" y="324" width="1" height="5" fill="#000"/><rect x="855" y="326" width="5" height="3" fill="#000"/><rect x="856" y="327" width="3" height="1" fill="#d80000"/><rect x="861" y="328" width="5" height="1" fill="#000"/><rect x="869" y="324" width="1" height="5" fill="#000"/><rect x="867" y="325" width="5" height="4" fill="#000"/><rect x="868" y="326" width="3" height="2" fill="#6aa84f"/><rect x="875" y="321" width="1" height="5" fill="#000"/><rect x="873" y="323" width="5" height="3" fill="#000"/><rect x="874" y="324" width="3" height="1" fill="#6aa84f"/><rect x="881" y="321" width="1" height="3" fill="#000"/><rect x="879" y="324" width="5" height="1" fill="#000"/><rect x="885" y="323" width="5" height="10" fill="#000"/><rect x="886" y="324" width="3" height="8" fill="#d80000"/><rect x="893" y="324" width="1" height="25" fill="#000"/><rect x="891" y="332" width="5" height="17" fill="#000"/><rect x="892" y="333" width="3" height="15" fill="#d80000"/><rect x="900" y="347" width="1" height="12" fill="#000"/><rect x="898" y="348" width="5" height="11" fill="#000"/><rect x="899" y="349" width="3" height="9" fill="#d80000"/><rect x="904" y="357" width="5" height="13" fill="#000"/><rect x="905" y="358" width="3" height="11" fill="#d80000"/><rect x="912" y="354" width="1" height="16" fill="#000"/><rect x="910" y="358" width="5" height="12" fill="#000"/><rect x="911" y="359" width="3" height="10" fill="#6aa84f"/><rect x="918" y="356" width="1" height="15" fill="#000"/><rect x="916" y="358" width="5" height="13" fill="#000"/><rect x="917" y="359" width="3" height="11" fill="#d80000"/><rect x="924" y="354" width="1" height="17" fill="#000"/><rect x="922" y="356" width="5" height="15" fill="#000"/><rect x="923" y="357" width="3" height="13" fill="#6aa84f"/><rect x="930" y="348" width="1" height="11" fill="#000"/><rect x="928" y="356" width="5" height="3" fill="#000"/><rect x="929" y="357" width="3" height="1" fill="#d80000"/><rect x="936" y="353" width="1" height="13" fill="#000"/><rect x="934" y="358" width="5" height="8" fill="#000"/><rect x="935" y="359" width="3" height="6" fill="#d80000"/><rect x="942" y="364" width="1" height="10" fill="#000"/><rect x="940" y="365" width="5" height="9" fill="#000"/><rect x="941" y="366" width="3" height="7" fill="#d80000"/><rect x="946" y="373" width="5" height="10" fill="#000"/><rect x="947" y="374" width="3" height="8" fill="#d80000"/><rect x="953" y="382" width="5" height="18" fill="#000"/><rect x="954" y="383" width="3" height="16" fill="#d80000"/><rect x="961" y="395" width="1" height="26" fill="#000"/><rect x="959" y="399" width="5" height="22" fill="#000"/><rect x="960" y="400" width="3" height="20" fill="#d80000"/><rect x="967" y="421" width="1" height="13" fill="#000"/><rect x="965" y="421" width="5" height="4" fill="#000"/><rect x="966" y="422" width="3" height="2" fill="#d80000"/><rect x="971" y="424" width="5" height="9" fill="#000"/><rect x="972" y="425" width="3" height="7" fill="#d80000"/><rect x="979" y="422" width="1" height="13" fill="#000"/><rect x="977" y="427" width="5" height="8" fill="#000"/><rect x="978" y="428" width="3" height="6" fill="#6aa84f"/><rect x="985" y="402" width="1" height="26" fill="#000"/><rect x="983" y="408" width="5" height="20" fill="#000"/><rect x="984" y="409" width="3" height="18" fill="#6aa84f"/><rect x="991" y="378" width="1" height="32" fill="#000"/><rect x="989" y="395" width="5" height="15" fill="#000"/><rect x="990" y="396" width="3" height="13" fill="#6aa84f"/><rect x="995" y="395" width="5" height="14" fill="#000"/><rect x="996" y="396" width="3" height="12" fill="#d80000"/><rect x="1003" y="392" width="1" height="17" fill="#000"/><rect x="1001" y="402" width="5" height="7" fill="#000"/><rect x="1002" y="403" width="3" height="5" fill="#6aa84f"/><rect x="1009" y="398" width="1" height="13" fill="#000"/><rect x="1007" y="402" width="5" height="9" fill="#000"/><rect x="1008" y="403" width="3" height="7" fill="#d80000"/><rect x="1016" y="401" width="1" height="19" fill="#000"/><rect x="1014" y="410" width="5" height="10" fill="#000"/><rect x="1015" y="411" width="3" height="8" fill="#d80000"/><rect x="1020" y="418" width="5" height="10" fill="#000"/><rect x="1021" y="419" width="3" height="8" fill="#d80000"/><rect x="1028" y="420" width="1" height="9" fill="#000"/><rect x="1026" y="423" width="5" height="5" fill="#000"/><rect x="1027" y="424" width="3" height="3" fill="#6aa84f"/><rect x="1034" y="421" width="1" height="7" fill="#000"/><rect x="1032" y="423" width="5" height="5" fill="#000"/><rect x="1033" y="424" width="3" height="3" fill="#d80000"/><rect x="1040" y="423" width="1" height="7" fill="#000"/><rect x="1038" y="427" width="5" height="3" fill="#000"/><rect x="1039" y="428" width="3" height="1" fill="#6aa84f"/><rect x="1046" y="423" width="1" height="8" fill="#000"/><rect x="1044" y="427" width="5" height="4" fill="#000"/><rect x="1045" y="428" width="3" height="2" fill="#d80000"/><rect x="1052" y="425" width="1" height="6" fill="#000"/><rect x="1050" y="427" width="5" height="4" fill="#000"/><rect x="1051" y="428" width="3" height="2" fill="#6aa84f"/><rect x="1056" y="427" width="5" height="11" fill="#000"/><rect x="1057" y="428" width="3" height="9" fill="#d80000"/><rect x="1062" y="437" width="5" height="13" fill="#000"/><rect x="1063" y="438" width="3" height="11" fill="#d80000"/><rect x="1071" y="442" width="1" height="11" fill="#000"/><rect x="1069" y="449" width="5" height="4" fill="#000"/><rect x="1070" y="450" width="3" height="2" fill="#d80000"/><rect x="1077" y="444" width="1" height="9" fill="#000"/><rect x="1075" y="449" width="5" height="4" fill="#000"/><rect x="1076" y="450" width="3" height="2" fill="#6aa84f"/><rect x="1083" y="438" width="1" height="8" fill="#000"/><rect x="1081" y="446" width="5" height="1" fill="#000"/><rect x="1089" y="437" width="1" height="8" fill="#000"/><rect x="1087" y="442" width="5" height="3" fill="#000"/><rect x="1088" y="443" width="3" height="1" fill="#6aa84f"/><rect x="1095" y="442" width="1" height="13" fill="#000"/><rect x="1093" y="442" width="5" height="10" fill="#000"/><rect x="1094" y="443" width="3" height="8" fill="#d80000"/><rect x="1101" y="456" width="1" height="14" fill="#000"/><rect x="1099" y="459" width="5" height="9" fill="#000"/><rect x="1100" y="460" width="3" height="7" fill="#d80000"/><rect x="1107" y="464" width="1" height="7" fill="#000"/><rect x="1105" y="467" width="5" height="4" fill="#000"/><rect x="1106" y="468" width="3" height="2" fill="#d80000"/><rect x="1111" y="467" width="5" height="11" fill="#000"/><rect x="1112" y="468" width="3" height="9" fill="#d80000"/><rect x="1119" y="472" width="1" height="6" fill="#000"/><rect x="1117" y="474" width="5" height="4" fill="#000"/><rect x="1118" y="475" width="3" height="2" fill="#6aa84f"/><rect x="1125" y="470" width="1" height="10" fill="#000"/><rect x="1123" y="474" width="5" height="6" fill="#000"/><rect x="1124" y="475" width="3" height="4" fill="#d80000"/><rect x="1132" y="473" width="1" height="15" fill="#000"/><rect x="1130" y="479" width="5" height="9" fill="#000"/><rect x="1131" y="480" width="3" height="7" fill="#d80000"/><rect x="1138" y="481" width="1" height="7" fill="#000"/><rect x="1136" y="485" width="5" height="3" fill="#000"/><rect x="1137" y="486" width="3" height="1" fill="#6aa84f"/><rect x="1142" y="485" width="5" height="18" fill="#000"/><rect x="1143" y="486" width="3" height="16" fill="#d80000"/><rect x="1148" y="502" width="5" height="19" fill="#000"/><rect x="1149" y="503" width="3" height="17" fill="#d80000"/><rect x="1154" y="520" width="5" height="1" fill="#000"/><rect x="1162" y="516" width="1" height="14" fill="#000"/><rect x="1160" y="518" width="5" height="6" fill="#000"/><rect x="1161" y="519" width="3" height="4" fill="#6aa84f"/><rect x="1168" y="503" width="1" height="16" fill="#000"/><rect x="1166" y="504" width="5" height="15" fill="#000"/><rect x="1167" y="505" width="3" height="13" fill="#6aa84f"/><rect x="1172" y="504" width="5" height="15" fill="#000"/><rect x="1173" y="505" width="3" height="13" fill="#d80000"/><rect x="1180" y="502" width="1" height="17" fill="#000"/><rect x="1178" y="506" width="5" height="13" fill="#000"/><rect x="1179" y="507" width="3" height="11" fill="#6aa84f"/><rect x="1185" y="506" width="5" height="5" fill="#000"/><rect x="1186" y="507" width="3" height="3" fill="#d80000"/><rect x="1193" y="505" width="1" height="5" fill="#000"/><rect x="1191" y="510" width="5" height="1" fill="#000"/><rect x="1199" y="485" width="1" height="26" fill="#000"/><rect x="1197" y="491" width="5" height="20" fill="#000"/><rect x="1198" y="492" width="3" height="18" fill="#6aa84f"/><rect x="1203" y="492" width="5" height="28" fill="#000"/><rect x="1204" y="493" width="3" height="26" fill="#d80000"/><rect x="1211" y="504" width="1" height="16" fill="#000"/><rect x="1209" y="506" width="5" height="14" fill="#000"/><rect x="1210" y="507" width="3" height="12" fill="#6aa84f"/><rect x="1217" y="498" width="1" height="9" fill="#000"/><rect x="1215" y="502" width="5" height="5" fill="#000"/><rect x="1216" y="503" width="3" height="3" fill="#6aa84f"/><rect x="1223" y="487" width="1" height="21" fill="#000"/><rect x="1221" y="491" width="5" height="17" fill="#000"/><rect x="1222" y="492" width="3" height="15" fill="#6aa84f"/><rect x="1229" y="488" width="1" height="15" fill="#000"/><rect x="1227" y="491" width="5" height="12" fill="#000"/><rect x="1228" y="492" width="3" height="10" fill="#d80000"/><rect x="1233" y="502" width="5" height="6" fill="#000"/><rect x="1234" y="503" width="3" height="4" fill="#d80000"/><rect x="1241" y="502" width="1" height="15" fill="#000"/><rect x="1239" y="507" width="5" height="10" fill="#000"/><rect x="1240" y="508" width="3" height="8" fill="#d80000"/><rect x="1248" y="508" width="1" height="9" fill="#000"/><rect x="1246" y="510" width="5" height="7" fill="#000"/><rect x="1247" y="511" width="3" height="5" fill="#6aa84f"/><rect x="1254" y="501" width="1" height="10" fill="#000"/><rect x="1252" y="507" width="5" height="4" fill="#000"/><rect x="1253" y="508" width="3" height="2" fill="#6aa84f"/><rect x="1260" y="506" width="1" height="5" fill="#000"/><rect x="1258" y="507" width="5" height="4" fill="#000"/><rect x="1259" y="508" width="3" height="2" fill="#d80000"/><rect x="1266" y="507" width="1" height="4" fill="#000"/><rect x="1264" y="510" width="5" height="1" fill="#000"/><rect x="1272" y="506" width="1" height="14" fill="#000"/><rect x="1270" y="510" width="5" height="10" fill="#000"/><rect x="1271" y="511" width="3" height="8" fill="#d80000"/><rect x="1276" y="516" width="5" height="10" fill="#000"/><rect x="1277" y="517" width="3" height="8" fill="#d80000"/><rect x="1284" y="525" width="1" height="40" fill="#000"/><rect x="1282" y="525" width="5" height="38" fill="#000"/><rect x="1283" y="526" width="3" height="36" fill="#d80000"/><rect x="1288" y="562" width="5" height="43" fill="#000"/><rect x="1289" y="563" width="3" height="41" fill="#d80000"/><rect x="1296" y="601" width="1" height="18" fill="#000"/><rect x="1294" y="605" width="5" height="14" fill="#000"/><rect x="1295" y="606" width="3" height="12" fill="#d80000"/><rect x="1301" y="618" width="5" height="38" fill="#000"/><rect x="1302" y="619" width="3" height="36" fill="#d80000"/><rect x="1309" y="637" width="1" height="19" fill="#000"/><rect x="1307" y="645" width="5" height="11" fill="#000"/><rect x="1308" y="646" width="3" height="9" fill="#6aa84f"/><rect x="1315" y="627" width="1" height="18" fill="#000"/><rect x="1313" y="630" width="5" height="15" fill="#000"/><rect x="1314" y="631" width="3" height="13" fill="#6aa84f"/><rect x="1321" y="625" width="1" height="6" fill="#000"/><rect x="1319" y="630" width="5" height="1" fill="#000"/><rect x="1327" y="608" width="1" height="33" fill="#000"/><rect x="1325" y="630" width="5" height="11" fill="#000"/><rect x="1326" y="631" width="3" height="9" fill="#d80000"/><rect x="1333" y="639" width="1" height="6" fill="#000"/><rect x="1331" y="640" width="5" height="1" fill="#000"/><rect x="1339" y="618" width="1" height="19" fill="#000"/><rect x="1337" y="625" width="5" height="12" fill="#000"/><rect x="1338" y="626" width="3" height="10" fill="#6aa84f"/><rect x="1345" y="616" width="1" height="9" fill="#000"/><rect x="1343" y="625" width="5" height="1" fill="#000"/><rect x="1351" y="624" width="1" height="19" fill="#000"/><rect x="1349" y="624" width="5" height="14" fill="#000"/><rect x="1350" y="625" width="3" height="12" fill="#d80000"/><rect x="1355" y="645" width="5" height="5" fill="#000"/><rect x="1356" y="646" width="3" height="3" fill="#d80000"/><rect x="1364" y="645" width="1" height="14" fill="#000"/><rect x="1362" y="650" width="5" height="9" fill="#000"/><rect x="1363" y="651" width="3" height="7" fill="#d80000"/><rect x="1368" y="659" width="5" height="12" fill="#000"/><rect x="1369" y="660" width="3" height="10" fill="#d80000"/><rect x="1376" y="661" width="1" height="15" fill="#000"/><rect x="1374" y="666" width="5" height="6" fill="#000"/><rect x="1375" y="667" width="3" height="4" fill="#6aa84f"/><rect x="1380" y="666" width="5" height="9" fill="#000"/><rect x="1381" y="667" width="3" height="7" fill="#d80000"/><rect x="1386" y="674" width="5" height="1" fill="#000"/><rect x="1392" y="674" width="5" height="1" fill="#000"/><rect x="1400" y="657" width="1" height="17" fill="#000"/><rect x="1398" y="666" width="5" height="8" fill="#000"/><rect x="1399" y="667" width="3" height="6" fill="#6aa84f"/><rect x="1406" y="661" width="1" height="11" fill="#000"/><rect x="1404" y="666" width="5" height="6" fill="#000"/><rect x="1405" y="667" width="3" height="4" fill="#d80000"/><rect x="1410" y="671" width="5" height="14" fill="#000"/><rect x="1411" y="672" width="3" height="12" fill="#d80000"/><rect x="1419" y="670" width="1" height="15" fill="#000"/><rect x="1417" y="682" width="5" height="3" fill="#000"/><rect x="1418" y="683" width="3" height="1" fill="#6aa84f"/><rect x="1425" y="672" width="1" height="14" fill="#000"/><rect x="1423" y="682" width="5" height="4" fill="#000"/><rect x="1424" y="683" width="3" height="2" fill="#d80000"/><rect x="1429" y="685" width="5" height="6" fill="#000"/><rect x="1430" y="686" width="3" height="4" fill="#d80000"/><rect x="1437" y="681" width="1" height="10" fill="#000"/><rect x="1435" y="684" width="5" height="7" fill="#000"/><rect x="1436" y="685" width="3" height="5" fill="#6aa84f"/><rect x="1443" y="637" width="1" height="51" fill="#000"/><rect x="1441" y="646" width="5" height="42" fill="#000"/><rect x="1442" y="647" width="3" height="40" fill="#6aa84f"/><rect x="1447" y="626" width="5" height="19" fill="#000"/><rect x="1448" y="627" width="3" height="17" fill="#6aa84f"/><rect x="1455" y="617" width="1" height="15" fill="#000"/><rect x="1453" y="629" width="5" height="3" fill="#000"/><rect x="1454" y="630" width="3" height="1" fill="#d80000"/><rect x="1461" y="622" width="1" height="15" fill="#000"/><rect x="1459" y="629" width="5" height="8" fill="#000"/><rect x="1460" y="630" width="3" height="6" fill="#6aa84f"/><rect x="1467" y="618" width="1" height="12" fill="#000"/><rect x="1465" y="627" width="5" height="3" fill="#000"/><rect x="1466" y="628" width="3" height="1" fill="#6aa84f"/><rect x="1473" y="599" width="1" height="29" fill="#000"/><rect x="1471" y="608" width="5" height="20" fill="#000"/><rect x="1472" y="609" width="3" height="18" fill="#6aa84f"/><rect x="1478" y="613" width="5" height="38" fill="#000"/><rect x="1479" y="614" width="3" height="36" fill="#d80000"/><rect x="1484" y="645" width="5" height="14" fill="#000"/><rect x="1485" y="646" width="3" height="12" fill="#d80000"/><rect x="1492" y="638" width="1" height="21" fill="#000"/><rect x="1490" y="646" width="5" height="13" fill="#000"/><rect x="1491" y="647" width="3" height="11" fill="#6aa84f"/><rect x="1498" y="632" width="1" height="15" fill="#000"/><rect x="1496" y="633" width="5" height="14" fill="#000"/><rect x="1497" y="634" width="3" height="12" fill="#6aa84f"/><rect x="1504" y="632" width="1" height="10" fill="#000"/><rect x="1502" y="635" width="5" height="7" fill="#000"/><rect x="1503" y="636" width="3" height="5" fill="#d80000"/><rect x="1508" y="642" width="5" height="9" fill="#000"/><rect x="1509" y="643" width="3" height="7" fill="#d80000"/><rect x="1516" y="655" width="1" height="8" fill="#000"/><rect x="1514" y="658" width="5" height="1" fill="#000"/><rect x="1522" y="629" width="1" height="10" fill="#000"/><rect x="1520" y="633" width="5" height="6" fill="#000"/><rect x="1521" y="634" width="3" height="4" fill="#6aa84f"/><rect x="1526" y="633" width="5" height="1" fill="#000"/><rect x="1533" y="633" width="5" height="1" fill="#000"/><rect x="1541" y="611" width="1" height="28" fill="#000"/><rect x="1539" y="615" width="5" height="24" fill="#000"/><rect x="1540" y="616" width="3" height="22" fill="#6aa84f"/><rect x="1547" y="603" width="1" height="16" fill="#000"/><rect x="1545" y="606" width="5" height="10" fill="#000"/><rect x="1546" y="607" width="3" height="8" fill="#6aa84f"/><rect x="1553" y="574" width="1" height="33" fill="#000"/><rect x="1551" y="575" width="5" height="32" fill="#000"/><rect x="1552" y="576" width="3" height="30" fill="#6aa84f"/></g>
<g shape-rendering="crispEdges"><rect x="1246" y="564" width="326" height="2" fill="#ff0000"/><rect x="1436" y="599" width="136" height="2" fill="#ff0000"/><rect x="1264" y="617" width="308" height="2" fill="#ff0000"/><rect x="1356" y="662" width="216" height="2" fill="#ff0000"/><rect x="1381" y="690" width="191" height="2" fill="#ff0000"/></g>
<text x="1576.5" y="570.8" font-size="25.4" font-weight="bold" fill="#f23645" textLength="80.3" lengthAdjust="spacingAndGlyphs">4.0000</text>
<text x="1576.5" y="604.8" font-size="25.4" font-weight="bold" fill="#f23645" textLength="80.3" lengthAdjust="spacingAndGlyphs">3.9680</text>
<text x="1576.5" y="627" font-size="25.4" font-weight="bold" fill="#f23645" textLength="80.3" lengthAdjust="spacingAndGlyphs">3.9500</text>
<text x="1576.5" y="668" font-size="25.4" font-weight="bold" fill="#f23645" textLength="80.3" lengthAdjust="spacingAndGlyphs">3.9080</text>
<text x="1576.5" y="698.9" font-size="25.4" font-weight="bold" fill="#f23645" textLength="80.3" lengthAdjust="spacingAndGlyphs">3.8820</text>
<text x="1124.8" y="432" font-size="22" font-weight="bold" fill="#9c27b0" textLength="107.5" lengthAdjust="spacingAndGlyphs">20-day MA</text>
<text x="1393.3" y="384" font-size="22" font-weight="bold" fill="#2962ff" textLength="121.5" lengthAdjust="spacingAndGlyphs">200-day MA</text>
<text x="1700" y="94.2" font-size="17" fill="#131722" stroke="#131722" stroke-width="0.3" textLength="52.5" lengthAdjust="spacingAndGlyphs">4.4500</text>
<text x="1700" y="147.2" font-size="17" fill="#131722" stroke="#131722" stroke-width="0.3" textLength="52.5" lengthAdjust="spacingAndGlyphs">4.4000</text>
<text x="1700" y="200.2" font-size="17" fill="#131722" stroke="#131722" stroke-width="0.3" textLength="52.5" lengthAdjust="spacingAndGlyphs">4.3500</text>
<text x="1700" y="253.2" font-size="17" fill="#131722" stroke="#131722" stroke-width="0.3" textLength="52.5" lengthAdjust="spacingAndGlyphs">4.3000</text>
<text x="1700" y="306.2" font-size="17" fill="#131722" stroke="#131722" stroke-width="0.3" textLength="52.5" lengthAdjust="spacingAndGlyphs">4.2500</text>
<text x="1700" y="359.2" font-size="17" fill="#131722" stroke="#131722" stroke-width="0.3" textLength="52.5" lengthAdjust="spacingAndGlyphs">4.2000</text>
<text x="1700" y="412.2" font-size="17" fill="#131722" stroke="#131722" stroke-width="0.3" textLength="52.5" lengthAdjust="spacingAndGlyphs">4.1500</text>
<text x="1700" y="465.2" font-size="17" fill="#131722" stroke="#131722" stroke-width="0.3" textLength="52.5" lengthAdjust="spacingAndGlyphs">4.1000</text>
<text x="1700" y="518.2" font-size="17" fill="#131722" stroke="#131722" stroke-width="0.3" textLength="52.5" lengthAdjust="spacingAndGlyphs">4.0500</text>
<text x="1700" y="571.2" font-size="17" fill="#131722" stroke="#131722" stroke-width="0.3" textLength="52.5" lengthAdjust="spacingAndGlyphs">4.0000</text>
<text x="1700" y="624.2" font-size="17" fill="#131722" stroke="#131722" stroke-width="0.3" textLength="52.5" lengthAdjust="spacingAndGlyphs">3.9500</text>
<text x="1700" y="677.2" font-size="17" fill="#131722" stroke="#131722" stroke-width="0.3" textLength="52.5" lengthAdjust="spacingAndGlyphs">3.9000</text>
<text x="1700" y="730.2" font-size="17" fill="#131722" stroke="#131722" stroke-width="0.3" textLength="52.5" lengthAdjust="spacingAndGlyphs">3.8500</text>
<rect x="1693.5" y="38.5" width="67" height="32" rx="6" ry="6" fill="#fff" stroke="#e0e3eb" stroke-width="1"/>
<text x="1704" y="60.2" font-size="14" fill="#131722" textLength="28" lengthAdjust="spacingAndGlyphs">MYR</text>
<path d="M1689 427.5 H1757 Q1760 427.5 1760 430.5 V448.5 Q1760 451.5 1757 451.5 H1689 Z" fill="#2962ff"/>
<text x="1701.3" y="445.7" font-size="17" fill="#fff" stroke="#fff" stroke-width="0.4" textLength="52.3" lengthAdjust="spacingAndGlyphs">4.1191</text>
<path d="M1689 563.5 H1757 Q1760 563.5 1760 566.5 V584.5 Q1760 587.5 1757 587.5 H1689 Z" fill="#6aa84f"/>
<text x="1701.3" y="581.7" font-size="17" fill="#fff" stroke="#fff" stroke-width="0.4" textLength="52.3" lengthAdjust="spacingAndGlyphs">3.9910</text>
<path d="M1689 622.5 H1757 Q1760 622.5 1760 625.5 V643.5 Q1760 646.5 1757 646.5 H1689 Z" fill="#9c27b0"/>
<text x="1701.3" y="640.7" font-size="17" fill="#fff" stroke="#fff" stroke-width="0.4" textLength="52.3" lengthAdjust="spacingAndGlyphs">3.9352</text>
<text x="118.5" y="784" font-size="17" font-weight="normal" fill="#131722" stroke="#131722" stroke-width="0.25" text-anchor="middle">May</text>
<text x="252.5" y="784" font-size="17" font-weight="normal" fill="#131722" stroke="#131722" stroke-width="0.25" text-anchor="middle">Jun</text>
<text x="381.5" y="784" font-size="17" font-weight="normal" fill="#131722" stroke="#131722" stroke-width="0.25" text-anchor="middle">Jul</text>
<text x="521.5" y="784" font-size="17" font-weight="normal" fill="#131722" stroke="#131722" stroke-width="0.25" text-anchor="middle">Aug</text>
<text x="649.5" y="784" font-size="17" font-weight="normal" fill="#131722" stroke="#131722" stroke-width="0.25" text-anchor="middle">Sep</text>
<text x="784.5" y="784" font-size="17" font-weight="normal" fill="#131722" stroke="#131722" stroke-width="0.25" text-anchor="middle">Oct</text>
<text x="924.5" y="784" font-size="17" font-weight="normal" fill="#131722" stroke="#131722" stroke-width="0.25" text-anchor="middle">Nov</text>
<text x="1046.5" y="784" font-size="17" font-weight="normal" fill="#131722" stroke="#131722" stroke-width="0.25" text-anchor="middle">Dec</text>
<text x="1187.5" y="784" font-size="17" font-weight="bold" fill="#131722" stroke="#131722" stroke-width="0.25" text-anchor="middle">2026</text>
<text x="1321.5" y="784" font-size="17" font-weight="normal" fill="#131722" stroke="#131722" stroke-width="0.25" text-anchor="middle">Feb</text>
<text x="1443.5" y="784" font-size="17" font-weight="normal" fill="#131722" stroke="#131722" stroke-width="0.25" text-anchor="middle">Mar</text>
<text x="1577.5" y="784" font-size="17" font-weight="normal" fill="#131722" stroke="#131722" stroke-width="0.25" text-anchor="middle">Apr</text>
<path d="M15.5 825.5 H30.4 V843.8 H23.2 V832.6 H15.5 Z" fill="#131313"/>
<circle cx="36.8" cy="829.1" r="3.7" fill="#131313"/>
<path d="M44.4 825.5 H52.8 L45.7 843.8 H37 Z" fill="#131313"/>
<text x="62" y="844" font-size="27.3" font-weight="bold" fill="#131313" textLength="150.6" lengthAdjust="spacingAndGlyphs">TradingView</text>
</svg></body></html>
